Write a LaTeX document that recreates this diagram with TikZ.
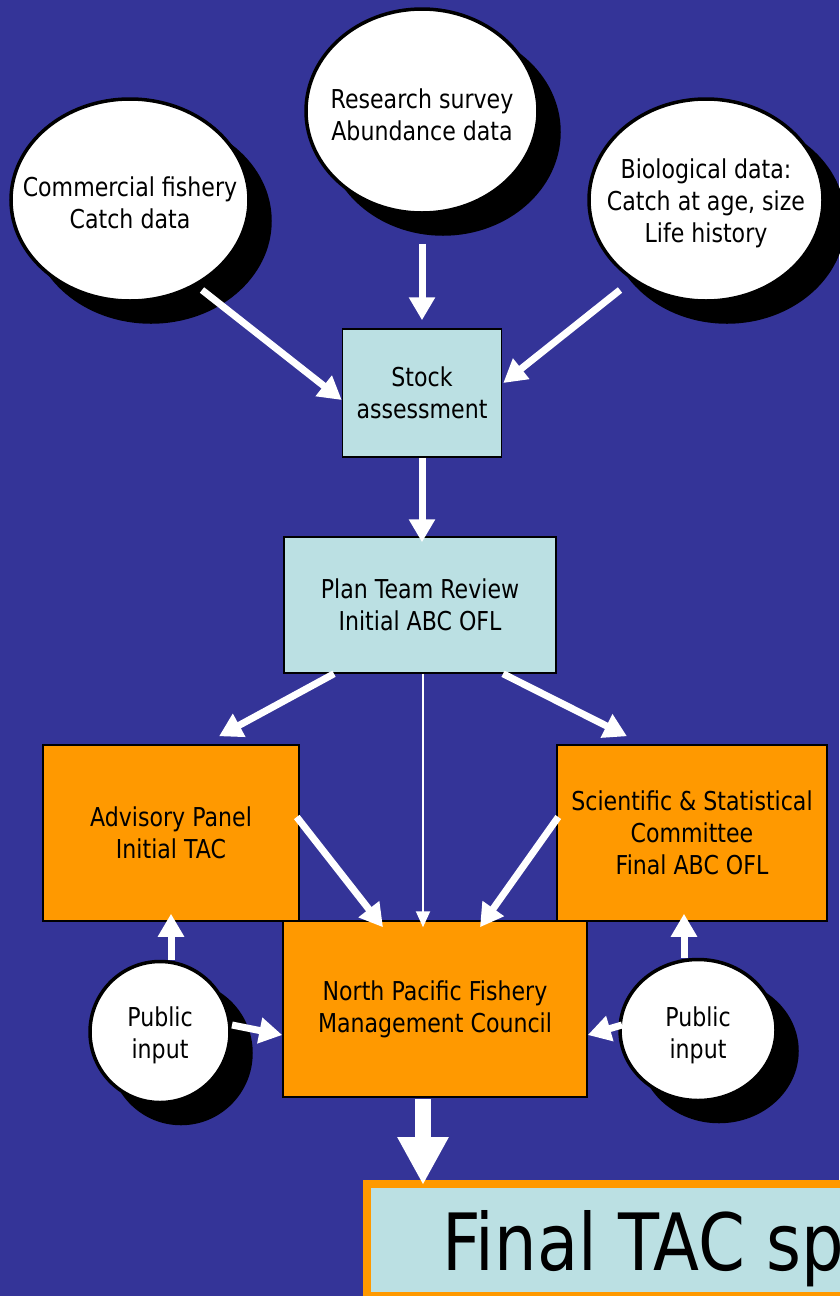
\documentclass[tikz,border=0pt]{standalone}
\usepackage{fontspec}
\setmainfont{DejaVu Sans}[FakeStretch=0.85]
\usetikzlibrary{shapes.geometric,arrows.meta,calc}
\definecolor{slideblue}{RGB}{52,52,152}
\definecolor{boxcyan}{RGB}{187,224,227}
\definecolor{boxorange}{RGB}{255,153,0}

\begin{document}
\begin{tikzpicture}[x=1pt,y=-1pt]
    \tikzstyle{lbl}=[font=\fontsize{26}{32}\selectfont,align=center,text=black]
    \tikzstyle{data node}=[ellipse,draw=black,line width=3.5pt,fill=white,inner sep=0,
        preaction={fill=black,draw=black,transform canvas={shift={(21pt,-21pt)}}}]
    \tikzstyle{cyan box}=[rectangle,draw=black,line width=1.5pt,fill=boxcyan,inner sep=0,lbl]
    \tikzstyle{orange box}=[rectangle,draw=black,line width=1.5pt,fill=boxorange,inner sep=0,lbl]
    \tikzstyle{arr}=[white,line width=7pt,-{Triangle[length=23pt,width=25pt]}]
    \tikzstyle{thin arr}=[white,line width=2pt,-{Triangle[length=16pt,width=14pt]}]
    \tikzstyle{big arr}=[white,line width=16pt,-{Triangle[length=48pt,width=48pt]}]

    \useasboundingbox (0,0) rectangle (839,1296);
    \fill[slideblue] (0,0) rectangle (839,1296);

    % data sources
    \node(fishery)[data node,minimum width=238pt,minimum height=202pt,
        label={[lbl,yshift=-3pt]center:{Commercial fishery\\Catch data}}] at (130,200) {};
    \node(survey)[data node,minimum width=232pt,minimum height=204pt,
        label={[lbl,yshift=-4pt]center:{Research survey\\Abundance data}}] at (422,111) {};
    \node(bio)[data node,minimum width=234pt,minimum height=202pt,
        label={[lbl,yshift=-3pt]center:{Biological data:\\Catch at age, size\\Life history}}] at (706,200) {};

    % review chain
    \node(stock)[cyan box,minimum width=159pt,minimum height=128pt] at (422,393) {Stock\\assessment};
    \node(plan)[cyan box,minimum width=272pt,minimum height=136pt] at (420,605) {Plan Team Review\\Initial ABC OFL};
    \node(ap)[orange box,minimum width=256pt,minimum height=176pt] at (171,833) {Advisory Panel\\Initial TAC};
    \node(ssc)[orange box,minimum width=270pt,minimum height=176pt] at (692,833) {Scientific \& Statistical\\Committee\\Final ABC OFL};
    \node(council)[orange box,minimum width=304pt,minimum height=176pt] at (435,1009) {North Pacific Fishery\\Management Council};

    % public input
    \node(publ)[data node,minimum width=140pt,minimum height=141pt,
        label={[lbl,yshift=-3pt]center:{Public\\input}}] at (160,1032) {};
    \node(pubr)[data node,minimum width=156pt,minimum height=141pt,
        label={[lbl,yshift=-5pt]center:{Public\\input}}] at (698,1030) {};

    % result
    \node(final)[rectangle,draw=boxorange,line width=8pt,fill=boxcyan,anchor=north west,
        inner xsep=75pt,inner ysep=0,minimum height=112pt,text depth=0pt,
        font=\fontsize{79}{90}\selectfont] at (363,1180) {Final TAC sp};

    % arrows
    \draw[arr] ($(fishery.center)+(72,90)$) -- ($(stock.west)+(0,7)$);
    \draw[arr] ($(survey.south)+(0,29)$) -- ($(stock.north)+(0,-8)$);
    \draw[arr] ($(bio.center)+(-86,90)$) -- ($(stock.east)+(1,-10)$);
    \draw[arr] (stock.south) -- ($(plan.north)+(2,6)$);
    \draw[arr] ($(plan.south)+(-86,0)$) -- ($(ap.north)+(48,-8)$);
    \draw[arr] ($(plan.south)+(83,0)$) -- ($(ssc.north)+(-65,-8)$);
    \draw[thin arr] ($(plan.south)+(3,0)$) -- ($(plan.south |- council.north)+(3,7)$);
    \draw[arr] ($(ap.east)+(-3,-16)$) -- ($(council.north)+(-52,7)$);
    \draw[arr] ($(ssc.west)+(2,-16)$) -- ($(council.north)+(45,7)$);
    \draw[arr] (ap.south |- publ.north) -- ($(ap.south)+(0,-8)$);
    \draw[arr] ($(pubr.north)+(-14,0)$) -- ($(ssc.south)+(-8,-8)$);
    \draw[arr] ($(publ.center)+(72,-7)$) -- ($(council.west)+(0,26)$);
    \draw[arr] ($(pubr.center)+(-76,-5)$) -- ($(council.east)+(0,26)$);
    \draw[big arr] ($(council.south)+(-12,1)$) -- ($(final.north west)+(60,5)$);
\end{tikzpicture}
\end{document}
